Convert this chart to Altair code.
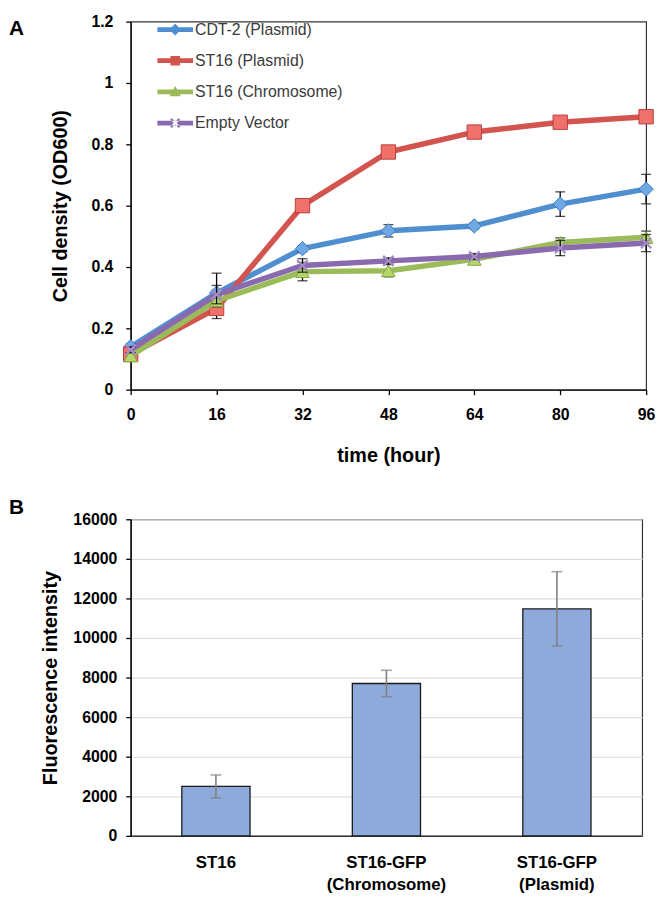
import math
import altair as alt
import pandas as pd

# ---------------- data ----------------
hours = [0, 16, 32, 48, 64, 80, 96]
series_names = ["CDT-2 (Plasmid)", "ST16 (Plasmid)", "ST16 (Chromosome)", "Empty Vector"]

cdt2 = [0.14, 0.315, 0.46, 0.518, 0.534, 0.605, 0.654]
cdt2_err = [0.01, 0.065, 0.01, 0.02, 0.01, 0.04, 0.048]
st16_plasmid = [0.115, 0.265, 0.60, 0.775, 0.84, 0.872, 0.89]
st16_plasmid_err = [0.01, 0.033, 0.01, 0.01, 0.01, 0.01, 0.01]
st16_chrom = [0.11, 0.29, 0.385, 0.388, 0.425, 0.48, 0.497]
st16_chrom_err = [0.01, 0.02, 0.03, 0.02, 0.01, 0.015, 0.02]
empty_vec = [0.13, 0.31, 0.405, 0.42, 0.434, 0.462, 0.478]
empty_vec_err = [0.01, 0.03, 0.022, 0.01, 0.01, 0.025, 0.028]

bar_categories = ["ST16", "ST16-GFP\n(Chromosome)", "ST16-GFP\n(Plasmid)"]
bar_values = [2500, 7700, 11470]
bar_err = [580, 670, 1880]

y_ticks_a = [0, 0.2, 0.4, 0.6, 0.8, 1.0, 1.2]
x_ticks_a = [0, 16, 32, 48, 64, 80, 96]
y_ticks_b = [0, 2000, 4000, 6000, 8000, 10000, 12000, 14000, 16000]

# ---------------- styles ----------------
FONT = "Liberation Sans"
line_colors = ["#4f8fd0", "#d3544f", "#9bbb59", "#8a6aae"]
marker_fill = ["#6ea9e6", "#f0716c", "#b5d76a", "#a48cc4"]
marker_stroke = ["#3f78b8", "#b8403c", "#86a843", "#8a6aae"]
plot_shapes = ["diamond", "square", "triangle-up", "M-1,-1L1,1M-1,1L1,-1"]
plot_sizes = [210, 210, 190, 110]


def poly(points):
    return "M" + "L".join(f"{x:.3f},{y:.3f}" for x, y in points) + "Z"


line_part = poly([(-1.2, -0.16), (1.2, -0.16), (1.2, 0.16), (-1.2, 0.16)])
diamond_part = poly([(0, -0.4), (0.4, 0), (0, 0.4), (-0.4, 0)])
square_part = poly([(-0.32, -0.32), (0.32, -0.32), (0.32, 0.32), (-0.32, 0.32)])
tri_part = poly([(0, -0.4), (0.38, 0.3), (-0.38, 0.3)])
a, t = 0.4, 0.07
plus = [(t, a), (t, t), (a, t), (a, -t), (t, -t), (t, -a), (-t, -a), (-t, -t),
        (-a, -t), (-a, t), (-t, t), (-t, a)]
r2 = math.sqrt(2)
x_part = poly([((x - y) / r2, (x + y) / r2) for x, y in plus])
legend_shapes = [line_part + diamond_part, line_part + square_part,
                 line_part + tri_part, line_part + x_part]

# ---------------- panel A ----------------
values = [cdt2, st16_plasmid, st16_chrom, empty_vec]
errors = [cdt2_err, st16_plasmid_err, st16_chrom_err, empty_vec_err]

x_axis_a = alt.Axis(values=x_ticks_a, title="time (hour)", grid=False,
                    labelFontSize=16, titleFontSize=20, labelPadding=12,
                    titlePadding=24, tickSize=5, labelFlush=False)
y_axis_a = alt.Axis(values=y_ticks_a, title="Cell density (OD600)", grid=False,
                    format="~g", labelFontSize=16, titleFontSize=20,
                    labelPadding=13, titlePadding=21, tickSize=5)
x_scale_a = alt.Scale(domain=[0, 96], nice=False)
y_scale_a = alt.Scale(domain=[0, 1.2], nice=False)

layers_a = []
for i, name in enumerate(series_names):
    df = pd.DataFrame({"hour": hours, "od": values[i], "err": errors[i]})
    df["lo"] = df["od"] - df["err"]
    df["hi"] = df["od"] + df["err"]
    base = alt.Chart(df)
    X = alt.X("hour:Q", scale=x_scale_a, axis=x_axis_a)
    Y = alt.Y("od:Q", scale=y_scale_a, axis=y_axis_a)
    line = base.mark_line(color=line_colors[i], strokeWidth=5.5,
                          strokeJoin="round").encode(x=X, y=Y)
    rule = base.mark_rule(color="black", strokeWidth=1.3).encode(
        x=X, y=alt.Y("lo:Q", scale=y_scale_a, axis=y_axis_a), y2="hi:Q")
    cap_hi = base.mark_tick(color="black", orient="horizontal", size=10,
                            thickness=1.3).encode(
        x=X, y=alt.Y("hi:Q", scale=y_scale_a, axis=y_axis_a))
    cap_lo = base.mark_tick(color="black", orient="horizontal", size=10,
                            thickness=1.3).encode(
        x=X, y=alt.Y("lo:Q", scale=y_scale_a, axis=y_axis_a))
    if i == 3:
        pts = base.mark_point(shape=plot_shapes[i], size=plot_sizes[i],
                              filled=False, stroke=marker_fill[i],
                              strokeWidth=2.2, opacity=1).encode(x=X, y=Y)
    else:
        pts = base.mark_point(shape=plot_shapes[i], size=plot_sizes[i],
                              fill=marker_fill[i], stroke=marker_stroke[i],
                              strokeWidth=1, fillOpacity=1, opacity=1).encode(x=X, y=Y)
    layers_a += [line, rule, cap_hi, cap_lo, pts]

legend_df = pd.DataFrame({"series": series_names, "hour": [0] * 4, "od": [0] * 4})
legend_layer = alt.Chart(legend_df).transform_filter("datum.hour < 0").mark_point(
    filled=True, size=900, opacity=1).encode(
    x=alt.X("hour:Q", scale=x_scale_a, axis=x_axis_a),
    y=alt.Y("od:Q", scale=y_scale_a, axis=y_axis_a),
    color=alt.Color("series:N",
                    scale=alt.Scale(domain=series_names, range=line_colors),
                    legend=alt.Legend(orient="none", legendX=30, legendY=-7,
                                      title=None, symbolSize=900,
                                      symbolStrokeWidth=0, labelFontSize=16,
                                      labelFont=FONT, labelColor="#3a3a3a",
                                      labelFontWeight="normal",
                                      labelOffset=5, rowPadding=8.5,
                                      padding=0)),
    shape=alt.Shape("series:N",
                    scale=alt.Scale(domain=series_names, range=legend_shapes)),
)

label_a = alt.Chart(pd.DataFrame({"t": ["A"]})).mark_text(
    align="left", baseline="alphabetic", fontSize=21, fontWeight="bold",
    font=FONT, color="black").encode(x=alt.value(-123), y=alt.value(13), text="t:N")

chart_a = alt.layer(*layers_a, legend_layer, label_a).properties(width=521, height=372)

# ---------------- panel B ----------------
bdf = pd.DataFrame({"cat": bar_categories, "val": bar_values, "err": bar_err})
bdf["lo"] = bdf["val"] - bdf["err"]
bdf["hi"] = bdf["val"] + bdf["err"]

x_axis_b = alt.Axis(title=None, labelAngle=0, ticks=False,
                    labelExpr="split(datum.label, '\\n')", labelFontSize=17,
                    labelLineHeight=22, labelPadding=19, domainColor="#333333")
y_axis_b = alt.Axis(values=y_ticks_b, title="Fluorescence intensity", grid=True,
                    format="d", gridColor="#dcdcdc", gridWidth=1.2,
                    labelFontSize=16, titleFontSize=20, labelPadding=9,
                    titlePadding=12, tickSize=5)
XB = alt.X("cat:N", sort=bar_categories,
           scale=alt.Scale(paddingInner=0.6, paddingOuter=0.3), axis=x_axis_b)
y_scale_b = alt.Scale(domain=[0, 16000], nice=False)

base_b = alt.Chart(bdf)
bars = base_b.mark_bar(fill="#8eaadb", stroke="#1a1a1a", strokeWidth=1.3).encode(
    x=XB, y=alt.Y("val:Q", scale=y_scale_b, axis=y_axis_b))
err_rule = base_b.mark_rule(color="#808080", strokeWidth=1.6).encode(
    x=XB, y=alt.Y("lo:Q", scale=y_scale_b, axis=y_axis_b), y2="hi:Q")
err_hi = base_b.mark_tick(color="#808080", size=11, thickness=1.6).encode(
    x=XB, y=alt.Y("hi:Q", scale=y_scale_b, axis=y_axis_b))
err_lo = base_b.mark_tick(color="#808080", size=11, thickness=1.6).encode(
    x=XB, y=alt.Y("lo:Q", scale=y_scale_b, axis=y_axis_b))
label_b = alt.Chart(pd.DataFrame({"t": ["B"]})).mark_text(
    align="left", baseline="alphabetic", fontSize=21, fontWeight="bold",
    font=FONT, color="black").encode(x=alt.value(-123), y=alt.value(-5), text="t:N")

chart_b = alt.layer(bars, err_rule, err_hi, err_lo, label_b).properties(
    width=517, height=320)

chart = alt.vconcat(chart_a, chart_b, spacing=30).properties(
    padding=0
).configure_view(stroke="#333333", strokeWidth=1.2).configure_axis(
    labelFont=FONT, titleFont=FONT, labelFontWeight="bold", titleFontWeight="bold",
    labelColor="black", titleColor="black", domainColor="black", tickColor="black",
    domainWidth=1.3, tickWidth=1.3
)

chart.save("out.html", embed_options={"renderer": "svg", "actions": False})
